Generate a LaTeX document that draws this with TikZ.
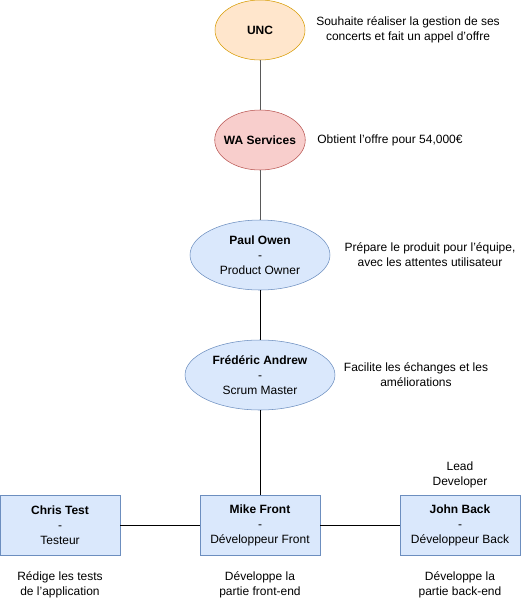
\documentclass[tikz,border=0pt]{standalone}
\usepackage{fontspec}
\setmainfont{Liberation Sans}
\usetikzlibrary{shapes.geometric,positioning}

\definecolor{orangefill}{HTML}{FFE6CC}
\definecolor{orangeline}{HTML}{D79B00}
\definecolor{redfill}{HTML}{F8CECC}
\definecolor{redline}{HTML}{B85450}
\definecolor{bluefill}{HTML}{DAE8FC}
\definecolor{blueline}{HTML}{6C8EBF}

\tikzset{
    role/.style={ellipse, draw=blueline, fill=bluefill, inner sep=0pt, align=center, font=\fontsize{9}{11.25}\selectfont},
    member/.style={rectangle, draw=blueline, fill=bluefill, minimum width=90pt, minimum height=45pt, inner sep=0pt, align=center, font=\fontsize{9}{11.25}\selectfont},
    note/.style={align=center, font=\fontsize{9}{11.25}\selectfont},
    link/.style={line width=0.75pt},
}

\begin{document}
\begin{tikzpicture}[x=0.75pt, y=-0.75pt]
    \useasboundingbox (0,0) rectangle (521,601);

    \node [role, draw=orangeline, fill=orangefill, minimum width=67.5pt, minimum height=45pt] (unc) at (260,30) {\textbf{UNC}};
    \node [role, draw=redline, fill=redfill, minimum width=67.5pt, minimum height=45pt, inner xsep=-3pt] (wa) at (260,140) {\textbf{WA Services}};
    \node [role, minimum width=105pt, minimum height=52.5pt] (po) at (260,255) {\textbf{Paul Owen}\\-\\Product Owner};
    \node [role, minimum width=112.5pt, minimum height=52.5pt] (sm) at (260,375) {\textbf{Frédéric Andrew}\\-\\Scrum Master};

    \node [member] (tester) at (60,525) {\textbf{Chris Test}\\-\\Testeur};
    \node [member] (front) at (260,525) {\textbf{Mike Front}\\-\\Développeur Front};
    \node [member] (back) at (460,525) {\textbf{John Back}\\-\\Développeur Back};

\draw [link, gray!70!black] (unc) -- (wa);
\draw [link, gray!70!black] (wa) -- (po);
\draw [link] (po) -- (sm);
\draw [link] (sm) -- (front);
\draw [link] (tester) -- (front);
\draw [link] (front) -- (back);

\node [note] (uncnote) at (408,30) {Souhaite réaliser la gestion de ses\\concerts et fait un appel d'offre};
\node [note] (wanote) at (390,140) {Obtient l'offre pour 54,000€};
\node [note] (ponote) at (430,255) {Prépare le produit pour l'équipe,\\avec les attentes utilisateur};
\node [note] (smnote) at (416,375) {Facilite les échanges et les\\améliorations};
\node [note] (lead) at (460,475) {Lead\\Developer};
\node [note] (testnote) at (60,585) {Rédige les tests\\de l'application};
\node [note] (frontnote) at (260,585) {Développe la\\partie front-end};
\node [note] (backnote) at (460,585) {Développe la\\partie back-end};
\end{tikzpicture}
\end{document}
